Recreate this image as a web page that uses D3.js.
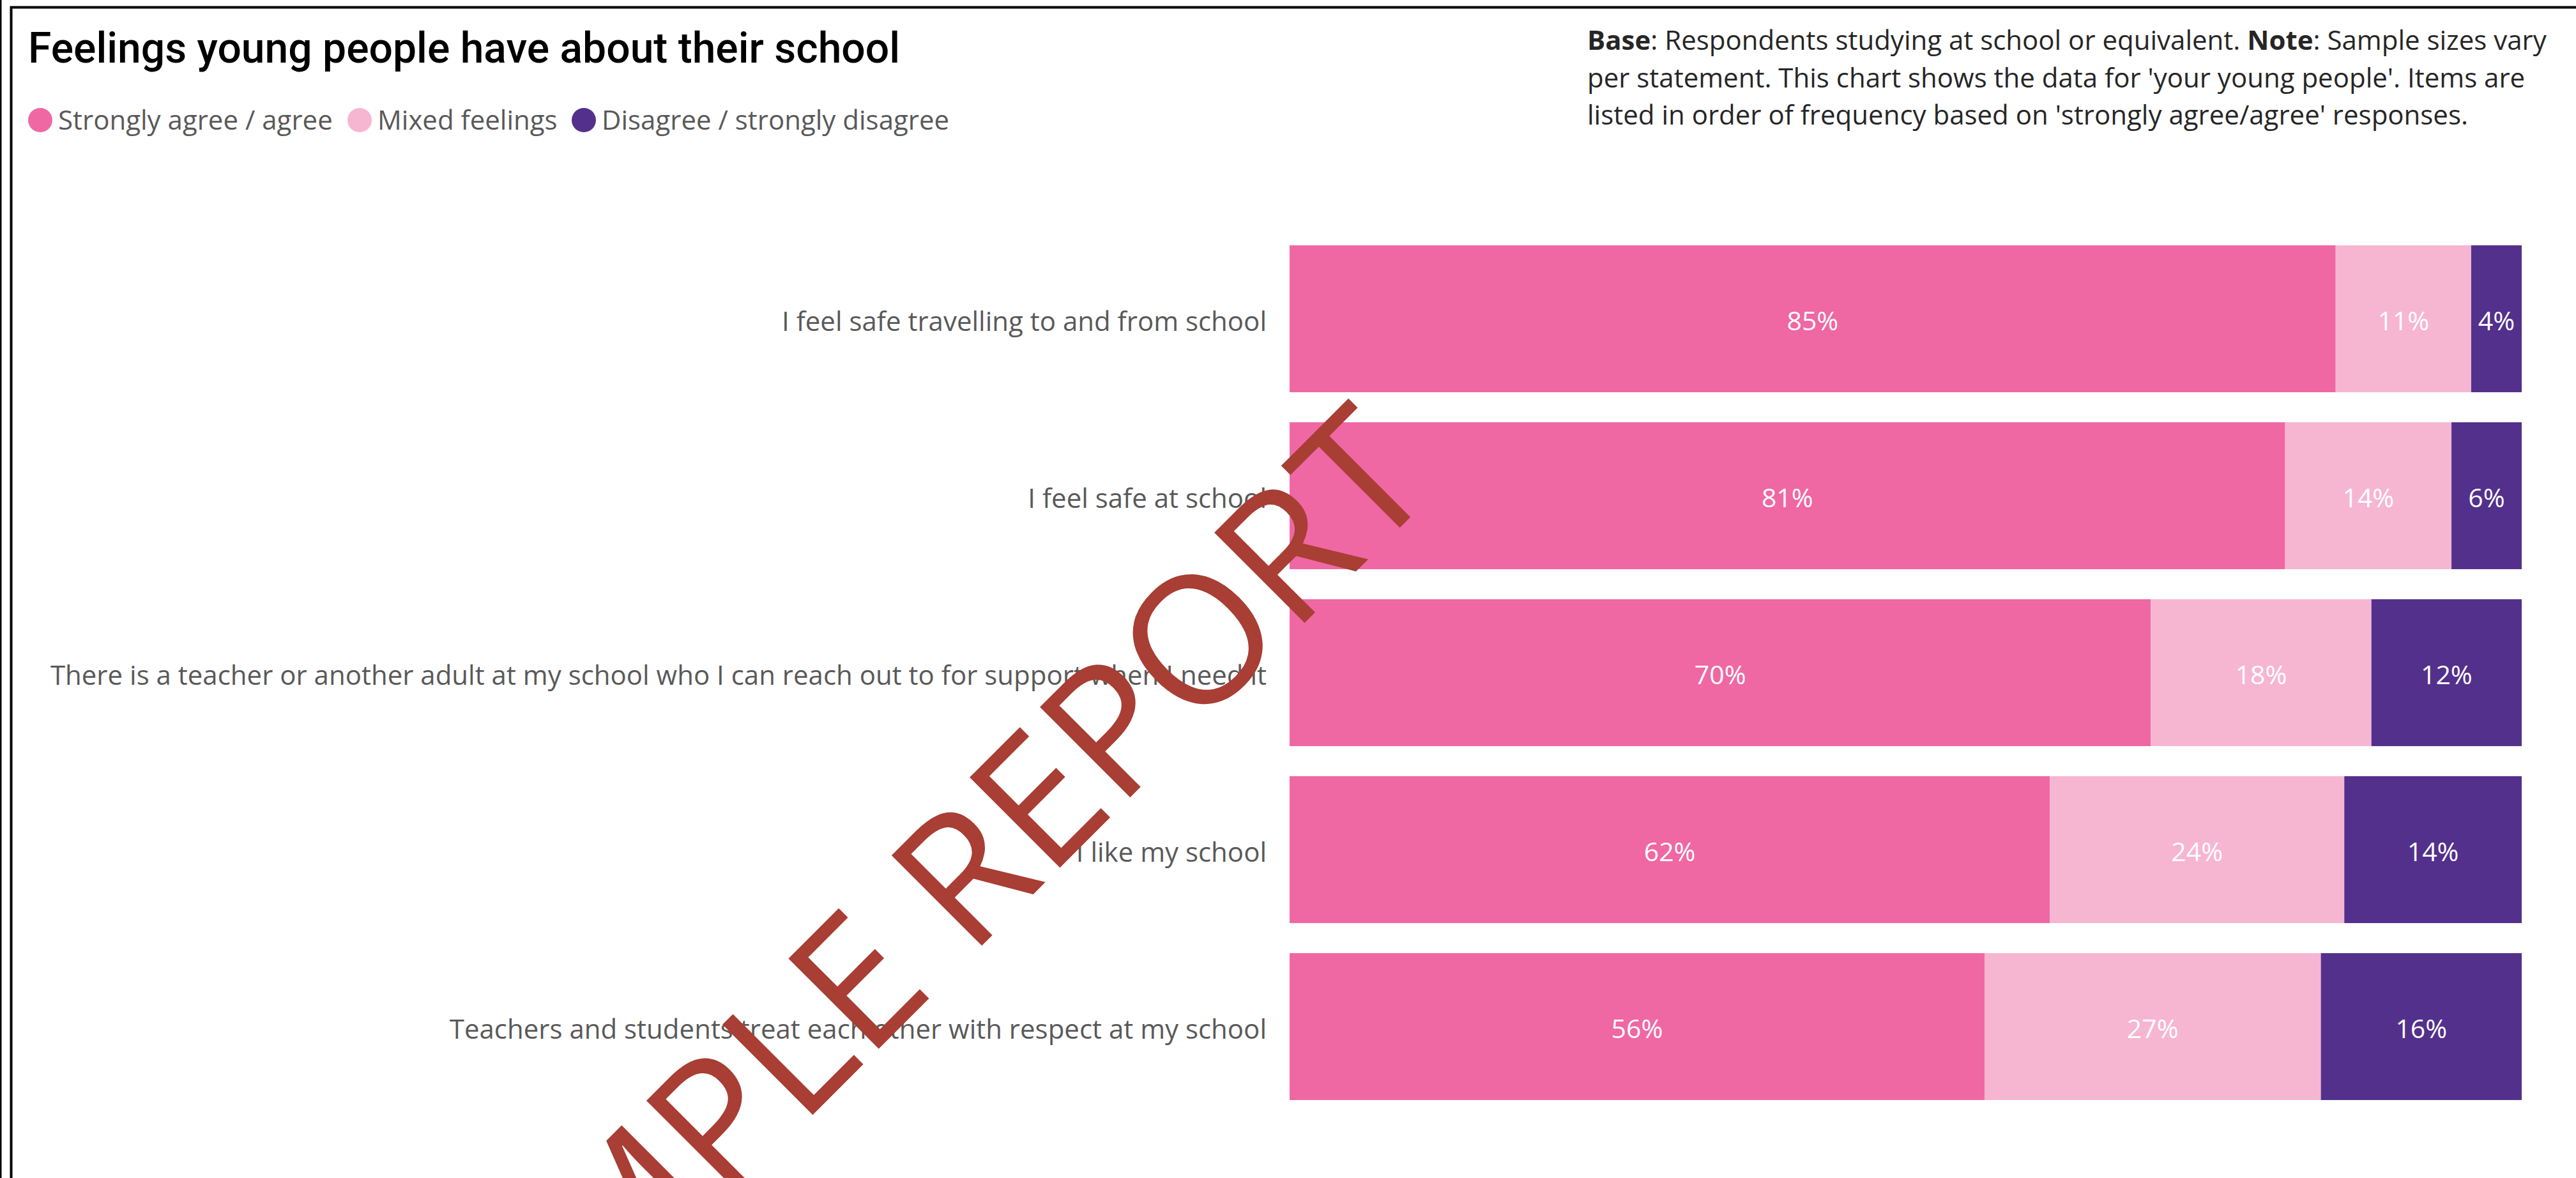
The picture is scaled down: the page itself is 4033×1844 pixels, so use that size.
<!DOCTYPE html>
<html>
<head>
<meta charset="utf-8">
<script src="https://cdn.jsdelivr.net/npm/d3@7"></script>
<style>
  html, body { margin: 0; padding: 0; background: #fff; }
  svg { display: block; }
</style>
</head>
<body>
<svg id="chart" width="4033" height="1844"></svg>
<script>
// statements, ordered by 'strongly agree / agree'
const categories = [
  'I feel safe travelling to and from school',
  'I feel safe at school',
  'There is a teacher or another adult at my school who I can reach out to for support when I need it',
  'I like my school',
  'Teachers and students treat each other with respect at my school'
]
// shares in % (labels are rounded)
const agree = [84.9, 80.8, 69.9, 61.7, 56.4]
const mixed = [11.0, 13.5, 17.9, 23.9, 27.3]
const disagree = [4.1, 5.7, 12.2, 14.4, 16.3]

const seriesKeys = ['agree', 'mixed', 'disagree']
const seriesNames = ['Strongly agree / agree', 'Mixed feelings', 'Disagree / strongly disagree']
const seriesColors = ['#EF67A3', '#F6B6D1', '#53308B']

const width = 4033
const height = 1844
const labelFont = 'Open Sans'
const labelSize = 42

const svg = d3.select('#chart')

// build rows for the stack
const rows = categories.map((c, i) => ({
  category: c,
  agree: agree[i],
  mixed: mixed[i],
  disagree: disagree[i]
}))

const stacked = d3.stack().keys(seriesKeys)(rows)

const xScale = d3.scaleLinear()
  .domain([0, 100])
  .range([2019, 3948])

const yScale = d3.scaleBand()
  .domain(categories)
  .range([360.5, 1745.5])
  .paddingInner(0.17)
  .paddingOuter(0.085)

const color = d3.scaleOrdinal()
  .domain(seriesKeys)
  .range(seriesColors)

const pct = d3.format('.0f')

// frame lines
svg.append('path')
  .attr('d', `M1,0 V${height}`)
  .attr('stroke', '#000')
  .attr('stroke-width', 3)
  .attr('fill', 'none')
svg.append('path')
  .attr('d', `M17.5,${height} V11.5 H${width}`)
  .attr('stroke', '#000')
  .attr('stroke-width', 4)
  .attr('fill', 'none')

// title
svg.append('text')
  .attr('x', 44)
  .attr('y', 98)
  .attr('font-family', 'Roboto')
  .attr('font-weight', 500)
  .attr('font-size', 66)
  .attr('fill', '#000')
  .text('Feelings young people have about their school')

// legend
const legendX = [63, 563, 914]
const legend = svg.append('g')
  .selectAll('g')
  .data(seriesKeys)
  .join('g')
  .attr('transform', (d, i) => `translate(${legendX[i]}, 188)`)

legend.append('circle')
  .attr('r', 19)
  .attr('fill', d => color(d))

legend.append('text')
  .attr('x', 28)
  .attr('y', 15)
  .attr('font-family', labelFont)
  .attr('font-size', labelSize)
  .attr('fill', '#595959')
  .text((d, i) => seriesNames[i])

// note, top right
const noteLines = [
  [['Base', true], [': Respondents studying at school or equivalent. ', false], ['Note', true], [': Sample sizes vary', false]],
  [["per statement. This chart shows the data for 'your young people'. Items are", false]],
  [["listed in order of frequency based on 'strongly agree/agree' responses.", false]]
]
const note = svg.append('text')
  .attr('font-family', labelFont)
  .attr('font-size', labelSize)
  .attr('fill', '#262626')

noteLines.forEach((line, i) => {
  line.forEach((part, j) => {
    const t = note.append('tspan')
      .attr('font-weight', part[1] ? 700 : 400)
      .text(part[0])
    if (j === 0) t.attr('x', 2485).attr('y', 78 + i * 58.5)
  })
})

// bars
const barGroups = svg.append('g')
  .selectAll('g')
  .data(stacked)
  .join('g')
  .attr('fill', d => color(d.key))

barGroups.selectAll('rect')
  .data(d => d)
  .join('rect')
  .attr('x', d => xScale(d[0]))
  .attr('y', d => yScale(d.data.category))
  .attr('width', d => xScale(d[1]) - xScale(d[0]))
  .attr('height', yScale.bandwidth())

// value labels inside the bars
const valueLabels = svg.append('g')
  .attr('font-family', labelFont)
  .attr('font-size', 41)
  .attr('fill', '#fff')
  .attr('text-anchor', 'middle')

stacked.forEach(series => {
  valueLabels.selectAll(null)
    .data(series)
    .join('text')
    .attr('x', d => (xScale(d[0]) + xScale(d[1])) / 2)
    .attr('y', d => yScale(d.data.category) + yScale.bandwidth() / 2)
    .attr('dy', '0.45em')
    .text(d => pct(d.data[series.key]) + '%')
})

// category labels on the left
const yAxis = svg.append('g')
  .attr('transform', 'translate(2019, 0)')
  .call(d3.axisLeft(yScale).tickSize(0).tickPadding(36))

yAxis.call(g => g.select('.domain').remove())
yAxis.selectAll('text')
  .attr('font-family', labelFont)
  .attr('font-size', labelSize)
  .attr('fill', '#595959')
  .attr('dy', '0.45em')

// watermark
svg.append('text')
  .attr('transform', 'translate(1417, 1458) rotate(-45)')
  .attr('text-anchor', 'middle')
  .attr('dy', '0.36em')
  .attr('font-family', labelFont)
  .attr('font-size', 280)
  .attr('fill', '#A83E34')
  .text('SAMPLE REPORT')
</script>
</body>
</html>
